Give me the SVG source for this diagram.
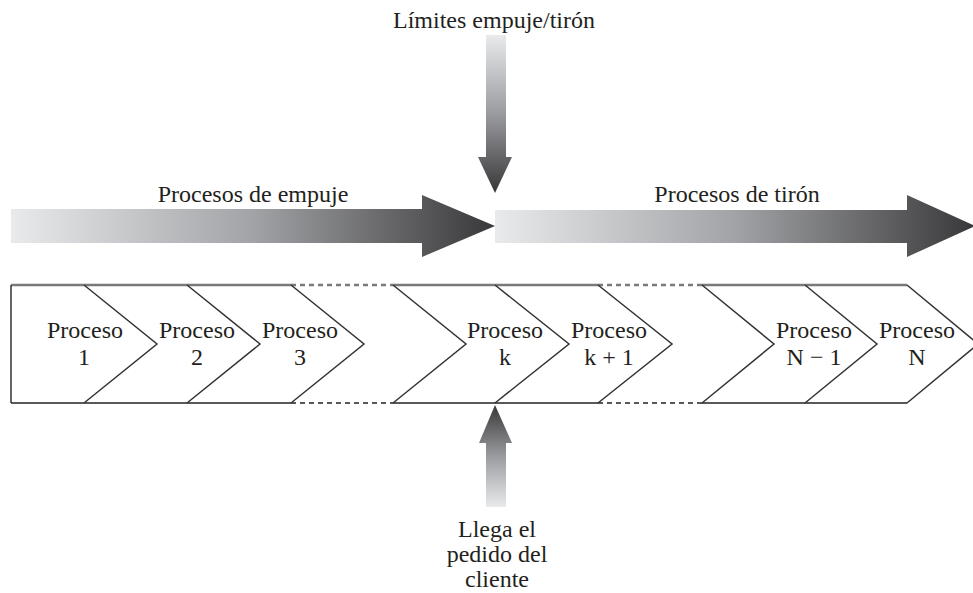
<svg xmlns="http://www.w3.org/2000/svg" width="973" height="593" viewBox="0 0 973 593">
<defs>
<linearGradient id="gh" x1="0" y1="0" x2="1" y2="0">
<stop offset="0" stop-color="#e9eaec"/>
<stop offset="0.5" stop-color="#a2a3a6"/>
<stop offset="1" stop-color="#38383a"/>
</linearGradient>
<linearGradient id="gdown" x1="0" y1="0" x2="0" y2="1">
<stop offset="0" stop-color="#e9eaec"/>
<stop offset="0.5" stop-color="#9a9b9e"/>
<stop offset="1" stop-color="#38383a"/>
</linearGradient>
<linearGradient id="gup" x1="0" y1="1" x2="0" y2="0">
<stop offset="0" stop-color="#e9eaec"/>
<stop offset="0.5" stop-color="#9a9b9e"/>
<stop offset="1" stop-color="#38383a"/>
</linearGradient>
<style>
text{font-family:"Liberation Serif","Times New Roman",serif;font-size:24px;fill:#231f20;text-anchor:middle}
.ch{fill:none;stroke:#333;stroke-width:1.5;stroke-linejoin:miter}
.top{stroke:#7a7a7a;stroke-width:2.5;fill:none}
.bot{stroke:#222;stroke-width:1.5;fill:none}
.dash{stroke-dasharray:5,4}
</style>
</defs>

<g id="push-arrow">
<polygon points="11,209 422,209 422,195 495,226 422,257 422,243 11,243" fill="url(#gh)"/>
<text x="253" y="202">Procesos de empuje</text>
</g>
<g id="pull-arrow">
<polygon points="495,210 907,210 907,195 975,226 907,257 907,243 495,243" fill="url(#gh)"/>
<text x="737" y="202">Procesos de tirón</text>
</g>
<g id="limit">
<text x="494" y="28">Límites empuje/tirón</text>
<polygon points="486,35 506,35 506,157 512,157 495,193 478,157 486,157" fill="url(#gdown)"/>
</g>
<g id="order">
<polygon points="495,405 512,443 506,443 506,507 486,507 486,443 479,443" fill="url(#gup)"/>
<text x="497" y="537">Llega el</text>
<text x="497" y="562">pedido del</text>
<text x="497" y="587">cliente</text>
</g>

<g id="connectors">
<line class="top" x1="11" y1="285" x2="291" y2="285"/>
<line class="top dash" x1="291" y1="285" x2="393" y2="285"/>
<line class="top" x1="393" y1="285" x2="598" y2="285"/>
<line class="top dash" x1="598" y1="285" x2="702" y2="285"/>
<line class="top" x1="702" y1="285" x2="907" y2="285"/>
<line class="bot" x1="11" y1="403" x2="291" y2="403"/>
<line class="bot dash" x1="291" y1="403" x2="393" y2="403"/>
<line class="bot" x1="393" y1="403" x2="598" y2="403"/>
<line class="bot dash" x1="598" y1="403" x2="702" y2="403"/>
<line class="bot" x1="702" y1="403" x2="907" y2="403"/>
</g>

<g id="p1">
<line class="ch" x1="11" y1="285" x2="11" y2="403"/>
<polyline class="ch" points="84,285 157,344 84,403"/>
<text x="85" y="338">Proceso</text>
<text x="84" y="365">1</text>
</g>
<g id="p2">
<polyline class="ch" points="187,285 260,344 187,403"/>
<text x="197" y="338">Proceso</text>
<text x="197" y="365">2</text>
</g>
<g id="p3">
<polyline class="ch" points="291,285 364,344 291,403"/>
<text x="300" y="338">Proceso</text>
<text x="300" y="365">3</text>
</g>
<g id="pk">
<polyline class="ch" points="393,285 466,344 393,403"/>
<polyline class="ch" points="495,285 569,344 495,403"/>
<text x="505" y="338">Proceso</text>
<text x="505" y="365">k</text>
</g>
<g id="pk1">
<polyline class="ch" points="598,285 672,344 598,403"/>
<text x="609" y="338">Proceso</text>
<text x="609" y="365">k + 1</text>
</g>
<g id="pN1">
<polyline class="ch" points="702,285 774,344 702,403"/>
<polyline class="ch" points="805,285 877,344 805,403"/>
<text x="814" y="338">Proceso</text>
<text x="814" y="365">N − 1</text>
</g>
<g id="pN">
<polyline class="ch" points="907,285 978,344 907,403"/>
<text x="917" y="338">Proceso</text>
<text x="917" y="365">N</text>
</g>
</svg>
